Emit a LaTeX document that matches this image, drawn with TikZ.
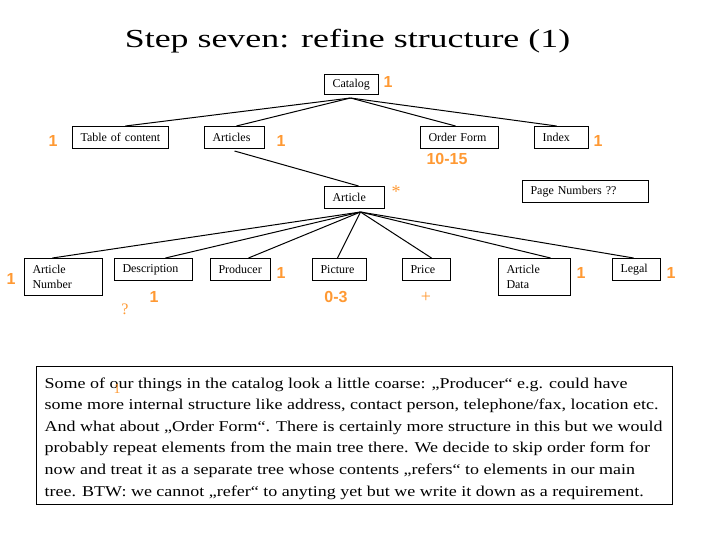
\documentclass[tikz,border=0pt]{standalone}
\usepackage{fontspec}
\setmainfont{Liberation Serif}
\newfontfamily\titlefont[FakeStretch=1.38]{Liberation Serif}
\newfontfamily\bodyfont[FakeStretch=1.2]{Liberation Serif}
\newfontfamily\lblfont{Liberation Sans}
\definecolor{lblorange}{RGB}{255,153,51}
\tikzset{
  bx/.style={draw, line width=1pt, anchor=north west, inner xsep=8pt, inner ysep=0pt,
    align=left, font=\fontsize{12}{15}\selectfont},
  ol/.style={text=lblorange, inner sep=0pt, font=\lblfont\bfseries\fontsize{16}{16}\selectfont},
  os/.style={text=lblorange, inner sep=0pt, font=\fontsize{16}{16}\selectfont},
  cn/.style={line width=1pt}
}
\begin{document}
\begin{tikzpicture}[x=1pt,y=-1pt]
\useasboundingbox (0,0) rectangle (720,540);
% title
\node[anchor=base, inner sep=0pt, font=\titlefont\fontsize{26}{30}\selectfont] (title) at (347.5,48) {Step seven: refine structure (1)};
% top level
\node[bx, text width=38pt, minimum height=20pt] (cat) at (324,74) {Catalog};
\node[bx, text width=80pt, minimum height=22pt] (toc) at (72,126) {Table of content};
\node[bx, text width=44pt, minimum height=22pt] (articles) at (204,126) {Articles};
\node[bx, text width=62pt, minimum height=22pt] (order) at (420,126) {Order Form};
\node[bx, text width=38pt, minimum height=22pt] (index) at (534,126) {Index};
\node[bx, text width=110pt, minimum height=22pt] (pagenum) at (522,180) {Page Numbers ??};
\node[bx, text width=44pt, minimum height=22pt] (article) at (324,186) {Article};
% bottom row
\node[bx, text width=62pt, minimum height=37pt] (artnum) at (24,258) {Article\\Number};
\node[bx, text width=62pt, minimum height=22pt] (desc) at (114,258) {Description};
\node[bx, text width=44pt, minimum height=22pt] (prod) at (210,258) {Producer};
\node[bx, text width=38pt, minimum height=22pt] (pic) at (312,258) {Picture};
\node[bx, text width=32pt, minimum height=22pt] (price) at (402,258) {Price};
\node[bx, text width=56pt, minimum height=37pt] (artdata) at (498,258) {Article\\Data};
\node[bx, text width=32pt, minimum height=22pt] (legal) at (612,258) {Legal};
% hubs
\coordinate (cathub) at ([shift={(-1pt,-3pt)}]cat.south);
\coordinate (arthub) at ([shift={(6pt,-3pt)}]article.south);
% connectors
\draw[cn] (cathub) -- ([xshift=5pt]toc.north);
\draw[cn] (cathub) -- ([xshift=2pt]articles.north);
\draw[cn] (cathub) -- ([xshift=-4pt]order.north);
\draw[cn] (cathub) -- ([xshift=-5pt]index.north);
\draw[cn] ([yshift=-2pt]articles.south) -- ([xshift=4pt]article.north);
\draw[cn] (arthub) -- ([xshift=-11pt]artnum.north);
\draw[cn] (arthub) -- ([xshift=12pt]desc.north);
\draw[cn] (arthub) -- ([xshift=8pt]prod.north);
\draw[cn] (arthub) -- ([xshift=-2pt]pic.north);
\draw[cn] (arthub) -- ([xshift=5pt]price.north);
\draw[cn] (arthub) -- ([xshift=16pt]artdata.north);
\draw[cn] (arthub) -- ([xshift=-3pt]legal.north);
% orange cardinalities
\node[ol] (c1) at (388,82) {1};
\node[ol] (c2) at (53,141) {1};
\node[ol] (c3) at (281,141) {1};
\node[ol] (c4) at (447,159) {10-15};
\node[ol] (c5) at (598,141) {1};
\node[os, font=\fontsize{18}{18}\selectfont] (c6) at (396,192) {*};
\node[ol] (c7) at (11,279) {1};
\node[ol] (c8) at (154,297) {1};
\node[os] (c9) at (125,309) {?};
\node[ol] (c10) at (281,273) {1};
\node[ol] (c11) at (336,297) {0-3};
\node[os, font=\fontsize{18}{18}\selectfont] (c12) at (426,297) {+};
\node[ol] (c13) at (581,273) {1};
\node[ol] (c14) at (671,273) {1};
% text box
\node[draw, line width=1pt, anchor=north west, minimum width=636pt, minimum height=138pt, inner sep=0pt] (tbox) at (36,366) {};
\node[anchor=base west, inner sep=0pt, align=left, font=\bodyfont\fontsize{15}{21.6}\selectfont] (txt) at (44.5,496) {Some of our things in the catalog look a little coarse: „Producer“ e.g. could have\\
some more internal structure like address, contact person, telephone/fax, location etc.\\
And what about „Order Form“. There is certainly more structure in this but we would\\
probably repeat elements from the main tree there. We decide to skip order form for\\
now and treat it as a separate tree whose contents „refers“ to elements in our main\\
tree. BTW: we cannot „refer“ to anyting yet but we write it down as a requirement.};
\node[text=lblorange, inner sep=0pt, font=\fontsize{14}{14}\selectfont] (c15) at (117,389) {1};
\end{tikzpicture}
\end{document}
